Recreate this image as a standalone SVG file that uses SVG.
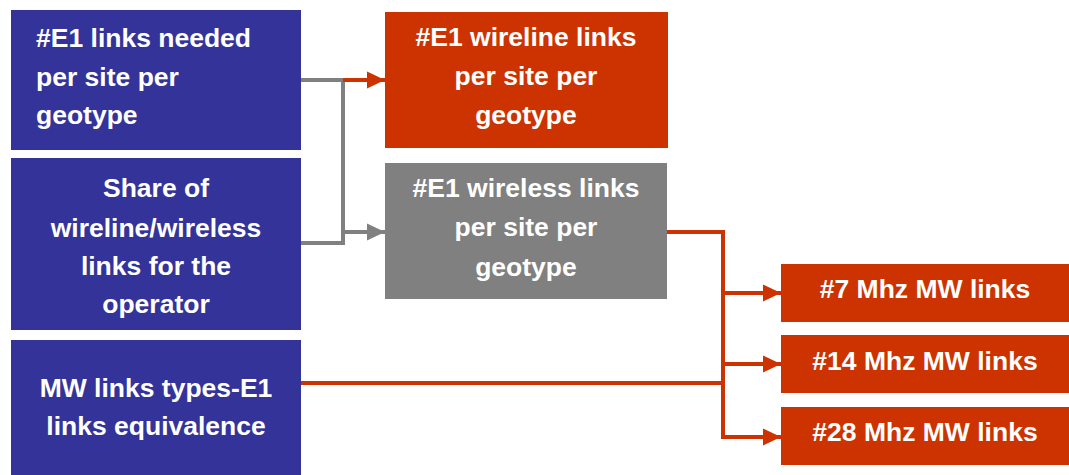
<svg xmlns="http://www.w3.org/2000/svg" width="1069" height="475" viewBox="0 0 1069 475">
<style>
.blue{fill:#333399}
.red{fill:#CC3300}
.gray{fill:#808080}
text{font-family:"Liberation Sans",Arial,sans-serif;font-weight:bold;font-size:26.5px;fill:#ffffff}
.c{text-anchor:middle}
.lr{fill:none;stroke:#CC3300;stroke-width:4}
.lg{fill:none;stroke:#808080;stroke-width:4}
</style>
<defs>
<marker id="ar" markerUnits="userSpaceOnUse" markerWidth="18" markerHeight="18" refX="18" refY="9" orient="auto"><path d="M0,0.5 L18,9 L0,17.5 Z" fill="#CC3300"/></marker>
<marker id="ag" markerUnits="userSpaceOnUse" markerWidth="18" markerHeight="18" refX="18" refY="9" orient="auto"><path d="M0,0.5 L18,9 L0,17.5 Z" fill="#808080"/></marker>
</defs>
<g id="n1"><rect class="blue" x="11" y="10" width="290" height="140"/>
<text x="36" y="47">#E1 links needed</text><text x="36" y="86">per site per</text><text x="36" y="124">geotype</text></g>
<g id="n2"><rect class="blue" x="11" y="158" width="290" height="172"/>
<text class="c" x="156" y="197">Share of</text><text class="c" x="156" y="237">wireline/wireless</text><text class="c" x="156" y="275">links for the</text><text class="c" x="156" y="313">operator</text></g>
<g id="n3"><rect class="blue" x="11" y="340" width="290" height="135"/>
<text class="c" x="156" y="397">MW links types-E1</text><text class="c" x="156" y="435">links equivalence</text></g>
<g id="n4"><rect class="red" x="385" y="12" width="283" height="136"/>
<text class="c" x="526" y="46">#E1 wireline links</text><text class="c" x="526" y="85">per site per</text><text class="c" x="526" y="124">geotype</text></g>
<g id="n5"><rect class="gray" x="385" y="163" width="282" height="136"/>
<text class="c" x="526" y="197">#E1 wireless links</text><text class="c" x="526" y="236">per site per</text><text class="c" x="526" y="276">geotype</text></g>
<g id="n6"><rect class="red" x="781" y="264" width="288" height="58"/><text class="c" x="925" y="298">#7 Mhz MW links</text></g>
<g id="n7"><rect class="red" x="781" y="335" width="288" height="58"/><text class="c" x="925" y="370">#14 Mhz MW links</text></g>
<g id="n8"><rect class="red" x="781" y="407" width="288" height="58"/><text class="c" x="925" y="441">#28 Mhz MW links</text></g>
<g id="connectors">
<path class="lg" d="M301,80 H343 V243 H301"/>
<path class="lr" d="M343,80 H385" marker-end="url(#ar)"/>
<path class="lg" d="M343,232 H385" marker-end="url(#ag)"/>
<path class="lr" d="M667,232 H723 V437"/>
<path class="lr" d="M301,383 H723"/>
<path class="lr" d="M721,293 H781" marker-end="url(#ar)"/>
<path class="lr" d="M721,364 H781" marker-end="url(#ar)"/>
<path class="lr" d="M721,437 H781" marker-end="url(#ar)"/>
</g>
</svg>
